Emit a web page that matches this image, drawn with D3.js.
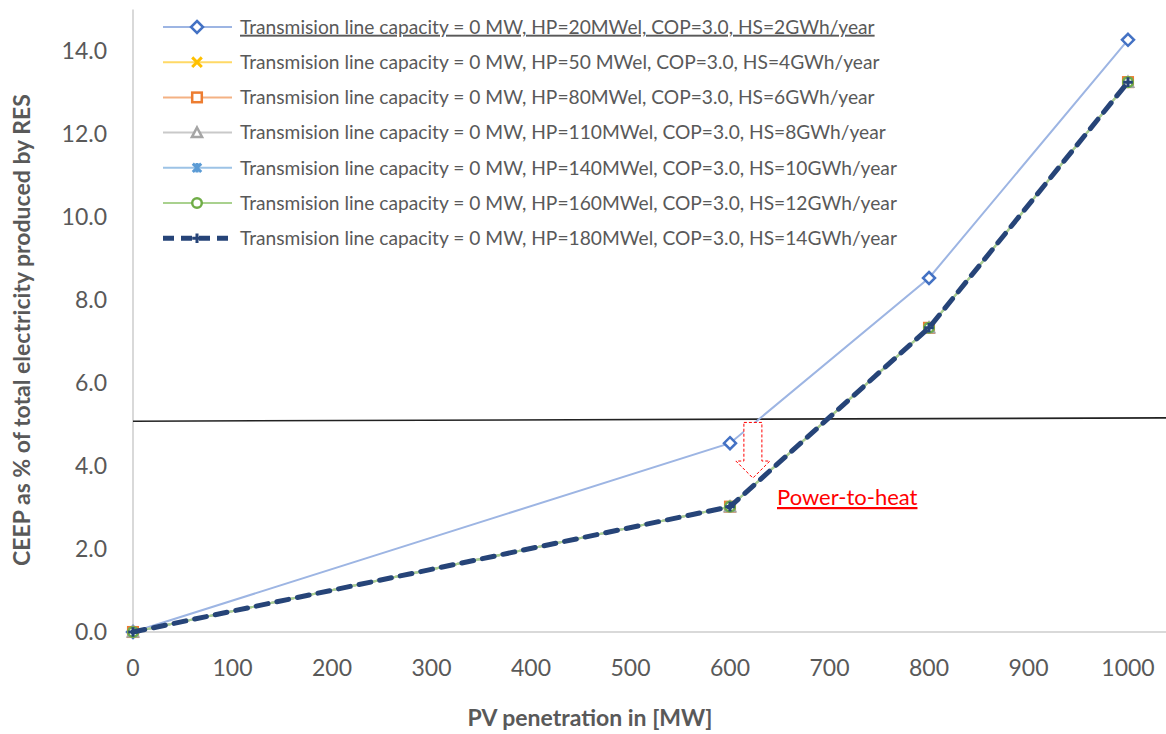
<!DOCTYPE html>
<html>
<head>
<meta charset="utf-8">
<script src="https://cdn.jsdelivr.net/npm/d3@7"></script>
<style>
  body { margin: 0; background: #fff; }
  text { font-family: Lato, "Open Sans", sans-serif; }
</style>
</head>
<body>
<div id="chart"></div>
<script>
const width = 1166;
const height = 734;

// PV penetration [MW]
const pvMW = [0, 600, 800, 1000];

// CEEP as % of total RES electricity, one array per heat pump case
const ceepHP20 = [0, 4.55, 8.53, 14.27];
const ceepHP50 = [0, 3.02, 7.33, 13.25];
const ceepHP80 = [0, 3.02, 7.33, 13.25];
const ceepHP110 = [0, 3.02, 7.33, 13.25];
const ceepHP140 = [0, 3.02, 7.33, 13.25];
const ceepHP160 = [0, 3.02, 7.33, 13.25];
const ceepHP180 = [0, 3.02, 7.33, 13.25];

const seriesNames = [
    "Transmision line capacity = 0 MW, HP=20MWel, COP=3.0, HS=2GWh/year",
    "Transmision line capacity = 0 MW, HP=50 MWel, COP=3.0, HS=4GWh/year",
    "Transmision line capacity = 0 MW, HP=80MWel, COP=3.0, HS=6GWh/year",
    "Transmision line capacity = 0 MW, HP=110MWel, COP=3.0, HS=8GWh/year",
    "Transmision line capacity = 0 MW, HP=140MWel, COP=3.0, HS=10GWh/year",
    "Transmision line capacity = 0 MW, HP=160MWel, COP=3.0, HS=12GWh/year",
    "Transmision line capacity = 0 MW, HP=180MWel, COP=3.0, HS=14GWh/year"
];
const seriesValues = [ceepHP20, ceepHP50, ceepHP80, ceepHP110, ceepHP140, ceepHP160, ceepHP180];

const xTicks = [0, 100, 200, 300, 400, 500, 600, 700, 800, 900, 1000];
const yTicks = [0, 2, 4, 6, 8, 10, 12, 14];

// annotation: threshold line and power-to-heat arrow
const thresholdLine = [5.08, 5.16];
const arrowMW = 623;
const arrowFrom = 5.05;
const arrowTo = 3.71;

const markerColors = ["#4472C4", "#FFC000", "#ED7D31", "#A5A5A5", "#5B9BD5", "#70AD47", "#264478"];
const lineColors = ["#9DB5E3", "#FFD966", "#F4B183", "#C9C9C9", "#9DC3E6", "#A9D18E", "#264478"];
const markerTypes = ["diamond", "x", "square", "triangle", "star", "circle", "plus"];

const svg = d3.select("#chart")
    .append("svg")
    .attr("width", width)
    .attr("height", height);

const x = d3.scaleLinear().domain([0, 1000]).range([133, 1128]);
const y = d3.scaleLinear().domain([0, 15]).range([632, 9.5]);

// axis lines
svg.append("line")
    .attr("x1", x(0)).attr("x2", x(0))
    .attr("y1", y(15)).attr("y2", y(0))
    .attr("stroke", "#D9D9D9").attr("stroke-width", 2);
svg.append("line")
    .attr("x1", x(0)).attr("x2", width)
    .attr("y1", y(0)).attr("y2", y(0))
    .attr("stroke", "#D9D9D9").attr("stroke-width", 2);

svg.selectAll(".ytick")
    .data(yTicks)
    .join("text")
    .attr("class", "ytick")
    .attr("x", 107)
    .attr("y", d => y(d))
    .attr("dy", "0.35em")
    .attr("text-anchor", "end")
    .attr("font-size", 23)
    .attr("fill", "#595959")
    .text(d => d.toFixed(1));

svg.selectAll(".xtick")
    .data(xTicks)
    .join("text")
    .attr("class", "xtick")
    .attr("x", d => x(d))
    .attr("y", 668)
    .attr("dy", "0.35em")
    .attr("text-anchor", "middle")
    .attr("font-size", 23)
    .attr("fill", "#595959")
    .text(d => d);

svg.append("text")
    .attr("x", 590)
    .attr("y", 718)
    .attr("dy", "0.35em")
    .attr("text-anchor", "middle")
    .attr("font-size", 23)
    .attr("font-weight", "bold")
    .attr("fill", "#595959")
    .text("PV penetration in [MW]");

svg.append("text")
    .attr("transform", "translate(22,330) rotate(-90)")
    .attr("dy", "0.35em")
    .attr("text-anchor", "middle")
    .attr("font-size", 23)
    .attr("font-weight", "bold")
    .attr("fill", "#595959")
    .text("CEEP as % of total electricity produced by RES");

// threshold line (drawn shape)
svg.append("line")
    .attr("x1", x(0)).attr("x2", width)
    .attr("y1", y(thresholdLine[0])).attr("y2", y(thresholdLine[1]))
    .attr("stroke", "#222").attr("stroke-width", 1.6);

function drawMarker(g, type, color, size) {
    const s = size;
    if (type === "diamond") {
        g.append("path")
            .attr("d", `M0,${-s}L${s},0L0,${s}L${-s},0Z`)
            .attr("fill", "#fff").attr("stroke", color).attr("stroke-width", 2.5);
    } else if (type === "x") {
        g.append("path")
            .attr("d", `M${-s * 0.8},${-s * 0.8}L${s * 0.8},${s * 0.8}M${-s * 0.8},${s * 0.8}L${s * 0.8},${-s * 0.8}`)
            .attr("stroke", color).attr("stroke-width", 3);
    } else if (type === "square") {
        g.append("rect")
            .attr("x", -s * 0.8).attr("y", -s * 0.8)
            .attr("width", s * 1.6).attr("height", s * 1.6)
            .attr("fill", "#fff").attr("stroke", color).attr("stroke-width", 2.5);
    } else if (type === "triangle") {
        g.append("path")
            .attr("d", `M0,${-s * 0.85}L${s * 0.85},${s * 0.75}L${-s * 0.85},${s * 0.75}Z`)
            .attr("fill", "#fff").attr("stroke", color).attr("stroke-width", 2.5);
    } else if (type === "star") {
        g.append("path")
            .attr("d", `M${-s * 0.7},${-s * 0.7}L${s * 0.7},${s * 0.7}M${-s * 0.7},${s * 0.7}L${s * 0.7},${-s * 0.7}M0,${-s * 0.8}L0,${s * 0.8}`)
            .attr("stroke", color).attr("stroke-width", 3);
    } else if (type === "circle") {
        g.append("circle")
            .attr("r", s * 0.8)
            .attr("fill", "#fff").attr("stroke", color).attr("stroke-width", 2.5);
    } else if (type === "plus") {
        g.append("path")
            .attr("d", `M${-s * 0.8},0L${s * 0.8},0M0,${-s * 0.8}L0,${s * 0.8}`)
            .attr("stroke", color).attr("stroke-width", 3);
    }
}

const line = d3.line()
    .x((d, i) => x(pvMW[i]))
    .y(d => y(d));

seriesValues.forEach((vals, k) => {
    const last = k === seriesValues.length - 1;
    svg.append("path")
        .datum(vals)
        .attr("d", line)
        .attr("fill", "none")
        .attr("stroke", lineColors[k])
        .attr("stroke-width", last ? 5 : 2)
        .attr("stroke-linecap", last ? "round" : "butt")
        .attr("stroke-dasharray", last ? "12,9" : null);
    vals.forEach((v, i) => {
        const g = svg.append("g").attr("transform", `translate(${x(pvMW[i])},${y(v)})`);
        drawMarker(g, markerTypes[k], markerColors[k], 6);
    });
});

// power-to-heat arrow
const ax = x(arrowMW);
const ay0 = y(arrowFrom);
const ay1 = y(arrowTo);
const headY = ay1 - 17;
svg.append("path")
    .attr("d", `M${ax - 9},${ay0}L${ax + 9},${ay0}L${ax + 9},${headY}L${ax + 17},${headY}L${ax},${ay1}L${ax - 17},${headY}L${ax - 9},${headY}Z`)
    .attr("fill", "#fff")
    .attr("stroke", "#FF0000")
    .attr("stroke-width", 1)
    .attr("stroke-dasharray", "3,2");

svg.append("text")
    .attr("x", 777)
    .attr("y", 505)
    .attr("font-size", 22)
    .attr("fill", "#FF0000")
    .attr("text-decoration", "underline")
    .text("Power-to-heat");

// legend
const legend = svg.append("g");
seriesNames.forEach((name, k) => {
    const ly = 27 + k * 35.2;
    const last = k === seriesNames.length - 1;
    legend.append("line")
        .attr("x1", 163).attr("x2", 232)
        .attr("y1", ly).attr("y2", ly)
        .attr("stroke", lineColors[k])
        .attr("stroke-width", last ? 5 : 2)
        .attr("stroke-dasharray", last ? "11,7" : null);
    const g = legend.append("g").attr("transform", `translate(197,${ly})`);
    drawMarker(g, markerTypes[k], markerColors[k], 6);
    legend.append("text")
        .attr("x", 240)
        .attr("y", ly)
        .attr("dy", "0.35em")
        .attr("font-size", 19.2)
        .attr("fill", "#595959")
        .attr("text-decoration", k === 0 ? "underline" : null)
        .text(name);
});
</script>
</body>
</html>
